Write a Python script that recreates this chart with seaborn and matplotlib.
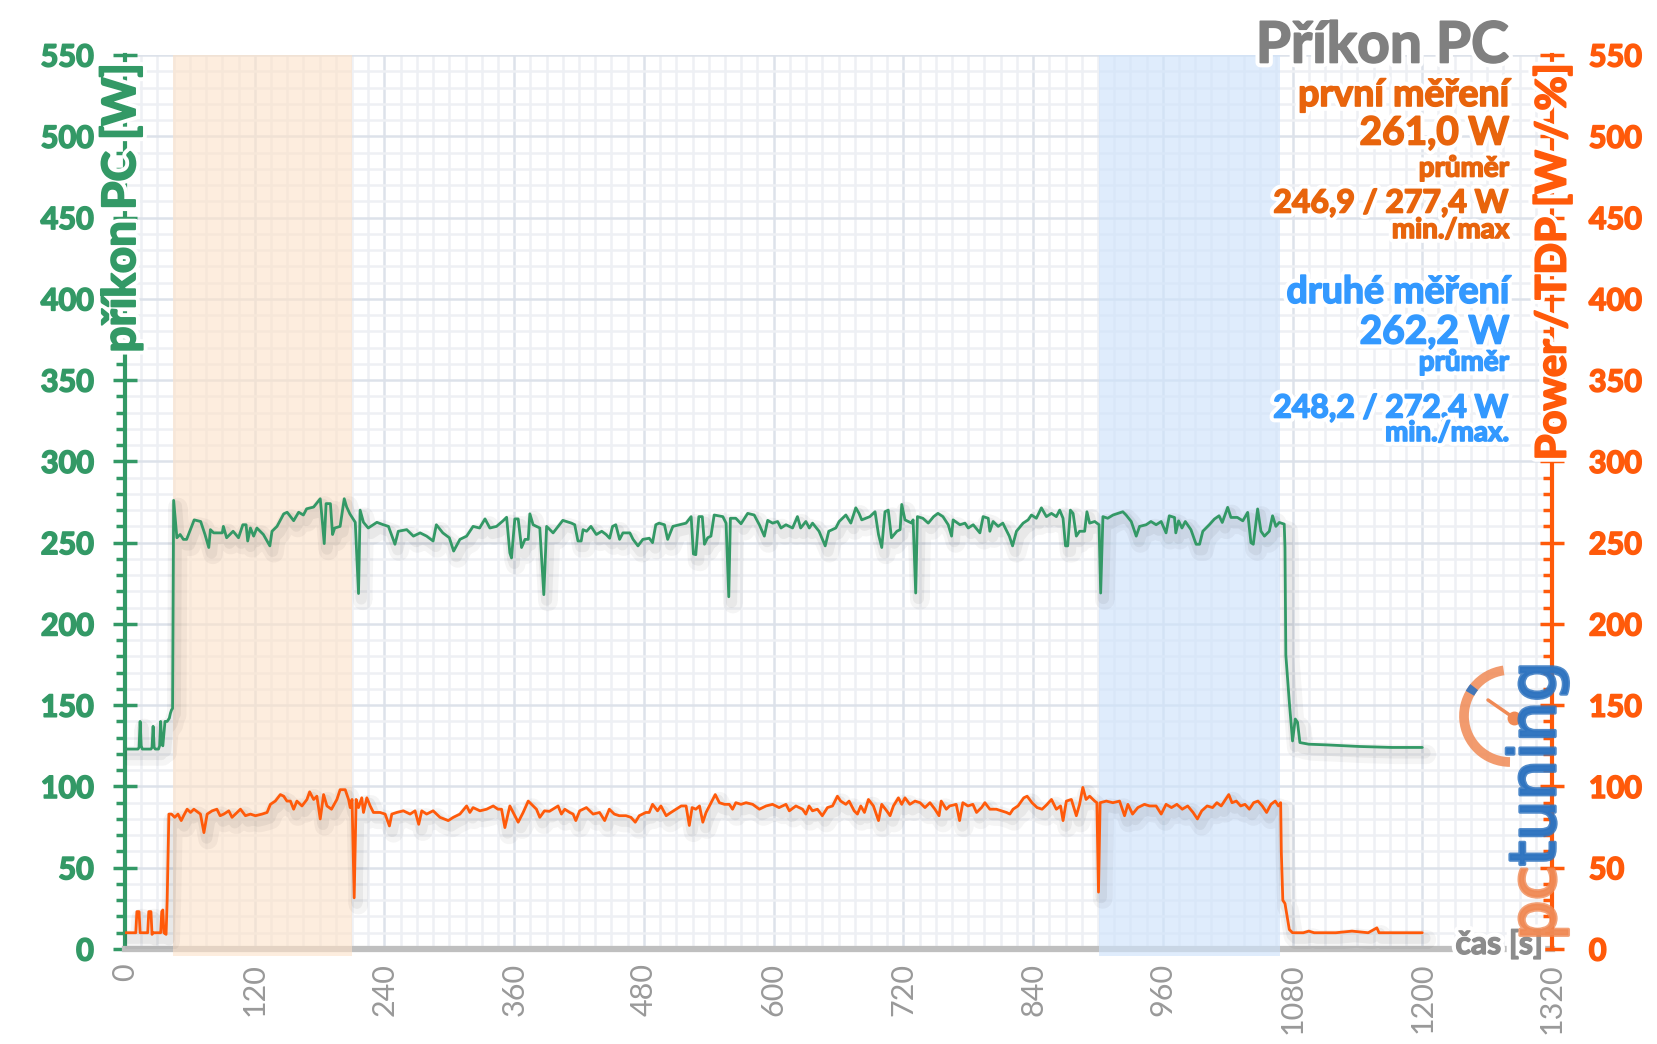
import numpy as np
import pandas as pd
import matplotlib
matplotlib.use('Agg')
import matplotlib.pyplot as plt
import matplotlib.patheffects as pe
from matplotlib.ticker import MultipleLocator
from matplotlib.patches import Arc
import seaborn as sns

# values (time in s, power in W)
green_t = [0, 12, 13, 14, 15, 16, 24, 25, 26, 27, 28, 31, 32, 33, 34, 35, 37, 39, 41, 42, 43, 44, 45,
           48, 51, 54, 57, 64, 70, 74, 77.5, 79, 82, 90, 91, 94, 100, 105, 109, 112, 113.5, 116, 119,
           122, 128, 134, 136, 140.6, 146.8, 150, 156, 160.6, 165, 168, 174.5, 180.6, 182, 184.3, 186,
           190, 192, 194, 199, 202.8, 205, 208, 213, 216, 217.5, 220.6, 225, 233, 239, 243.7, 249.7,
           252.8, 260.6, 266.8, 273, 279, 285, 288, 294, 300, 304, 309.8, 316, 322, 328, 333, 337.5,
           343.7, 349.8, 353, 356, 357.5, 360.6, 363.7, 366.8, 370, 373, 374.5, 377.5, 383.7, 387.4,
           390, 396, 405, 413, 416, 419, 422, 423.7, 427, 431, 436, 441, 445, 448.3, 451, 454, 457.5,
           460.6, 467, 470, 474.5, 479, 485, 488, 491, 494, 499, 502, 506.8, 513, 519, 523.7, 525.8,
           528, 530.8, 534, 536, 539, 542, 545, 553, 556, 558.5, 560, 565, 569.8, 576, 582, 586.8,
           591.4, 594.5, 599, 603.7, 606.8, 611.4, 617.5, 622, 625, 629.8, 633, 636, 642, 647.7, 651,
           657.5, 660.6, 666.8, 671.4, 676, 679, 681.5, 689, 693.8, 697, 700, 703, 706, 709, 714, 717,
           718.5, 721.5, 727.7, 729, 731.4, 733, 738, 743, 748, 752, 756.6, 761.5, 764.6, 766, 772.3,
           777, 780, 784.6, 790.8, 793.8, 798.5, 800, 803, 807.7, 812, 815, 818, 821, 824.6, 830.8,
           835.4, 838.5, 843, 847.7, 852.3, 857, 861.5, 864.6, 867.7, 870, 872, 874.5, 877, 880, 883,
           887.7, 889.8, 892.3, 897, 901, 902.5, 904.6, 909, 914, 918.5, 923, 926, 930.8, 935.4, 938.5,
           944.6, 949, 953.8, 958.5, 963, 966, 970.8, 972, 974.6, 977.7, 980.8, 986, 990.8, 994, 997,
           1003, 1007.7, 1012, 1015, 1020, 1023, 1029, 1034, 1038.5, 1041.5, 1043.7, 1047.7, 1050.8,
           1054, 1058.5, 1061.5, 1064.6, 1067.7, 1072.3, 1073, 1073.8, 1077, 1080, 1082.5, 1084.6,
           1086.8, 1095, 1110.8, 1141.5, 1172, 1200]
green_w = [123, 123, 124, 140, 125, 123, 123, 124, 137, 124, 123, 123, 125, 140, 126, 125, 140, 140, 142, 145, 147, 148, 276,
           253, 255, 252, 252, 264, 263, 255, 247, 258, 256, 256, 260, 253, 257, 253, 261, 261, 251, 259, 254,
           259, 255, 248, 257, 260, 267.7, 268.7, 263.5, 268.7, 267, 270.8, 271.9, 277, 267, 249.4, 274,
           274, 255, 259, 260, 277, 272, 267.7, 262.5, 218.7, 270, 262.5, 259, 262.5, 261, 260, 249,
           257, 258, 254, 256, 254, 251, 261, 256, 253, 244.8, 252, 254, 260, 259, 264.6, 259,
           260, 263.5, 265.6, 243.7, 240.6, 264.6, 264.6, 247, 252, 252, 267.7, 261, 259, 218,
           260, 256, 263.7, 262, 261, 251, 251, 258, 257, 260, 255, 257, 255, 252.7, 260, 261, 252,
           256, 256, 252, 248, 252, 252.7, 250, 261, 262, 261, 252, 260, 261, 262, 266, 243,
           242.6, 266, 266, 249, 253, 254, 267, 266, 262, 216.7, 265, 265, 261.6, 268, 267, 261,
           254, 263.7, 262, 263, 259, 261, 259, 266, 259, 263, 259, 262, 257, 248, 257,
           259, 263, 267, 262, 271.4, 268, 264, 266, 269, 255, 247, 269, 270, 253, 257, 258,
           273.5, 264, 262, 264, 219, 266, 265, 262, 266, 268, 266, 261, 254, 264, 261,
           262, 259, 261, 256, 266, 265, 257, 263, 260, 262, 258, 254, 248, 257, 262,
           264, 267, 265, 271.4, 266, 268, 266, 270, 265, 248, 248, 270, 268, 254, 257,
           257, 269, 262, 263, 261, 219, 266, 265, 267, 268, 269, 267, 263, 254, 260,
           261, 263, 261, 263, 256, 266.5, 265.5, 256, 263.4, 259, 263, 258, 249, 249, 257,
           261, 264.5, 266.5, 262.4, 271.7, 265.5, 265.5, 263.4, 268.6, 250, 249, 270.7, 257,
           254, 257, 266.5, 260, 262.4, 261.4, 247, 180.8, 152, 128, 141.5, 139.5,
           127, 126, 125.6, 124.6, 124, 124]

orange_t = [0, 10, 11, 13, 14, 21, 22, 24, 25, 26, 33, 34, 35, 36, 38, 39, 40.6,
            43, 46, 49, 52, 55, 57.5, 60.6, 63.7, 69.8, 73, 76, 80.6, 85, 88, 91.4, 96, 99, 103.7,
            106.8, 111.4, 116, 120.6, 126.8, 131.4, 134.5, 139, 143.7, 146.8, 149.8, 153, 156, 159,
            163.7, 168.3, 170.8, 174.5, 177.5, 180.6, 183.7, 186.8, 191, 196, 199, 203.7, 206.8, 208.3,
            210, 212, 213.8, 216, 219, 220.6, 223.7, 226.8, 229.8, 236, 240.6, 244.6, 246.8, 251.4,
            257.5, 263.7, 268.3, 271.7, 274.5, 279, 285, 291.4, 299, 303.7, 309.8, 316, 319, 322,
            328.3, 334.5, 340.6, 345, 348.3, 351.4, 356, 360.6, 363.7, 368.3, 373, 377.5, 380.6, 383.7,
            388, 392.6, 395.7, 400.6, 403.7, 406.8, 411.4, 414.5, 417, 420.6, 426.8, 433, 439, 443.7,
            448, 452.6, 457.2, 463.4, 468, 472, 475.7, 481.8, 484.9, 488, 492.6, 495.7, 500.6, 505,
            509.8, 514.5, 519, 522, 524.6, 528, 531.4, 534.5, 537.5, 540.6, 543.7, 546, 549.8, 554.5,
            559, 562, 565, 569.8, 574.5, 580.6, 586.8, 593, 599, 605, 611.4, 614.5, 620.6, 626.7,
            629.8, 632.8, 635.9, 640.5, 645, 649.8, 654.5, 659, 662, 666.8, 669.8, 674.5, 677.5, 680.6,
            684, 687.7, 692.3, 697, 700, 704.6, 707.7, 710.8, 715.4, 718.5, 721.5, 726, 730.8, 735.4,
            740, 744.6, 749.2, 753, 755, 759.7, 762.8, 768.9, 772, 775, 779.7, 784.3, 787.7, 792.3,
            795.4, 800, 806, 810.8, 815.4, 818.5, 821.5, 826, 831.4, 834.5, 839, 843.7, 848.3, 853,
            857, 861.5, 865.4, 867.7, 870.8, 875.4, 880, 883, 886, 889, 892.3, 897, 899, 900.5, 902,
            907.7, 913.8, 920, 924.6, 927.7, 932, 936.9, 943, 947.7, 953.8, 958.5, 963,
            968, 973, 978, 983, 988, 992, 996, 1001, 1006, 1010, 1014, 1018, 1021, 1024, 1028, 1032,
            1036, 1040, 1044, 1048, 1052, 1056, 1060, 1064, 1067, 1069, 1069.6, 1071, 1073, 1075, 1077,
            1080, 1090, 1095, 1100, 1120, 1135, 1150, 1158, 1160, 1180, 1200]
orange_w = [10, 10, 23, 23, 10, 10, 23, 23, 9, 10, 10, 23, 24, 10, 9, 30, 83,
            83, 81, 83, 79, 83, 86, 84, 86, 83, 71.6, 83, 85, 86, 82, 83, 85, 81, 84,
            86, 82, 83, 82, 83, 84, 89, 91, 95, 94, 91, 91, 86, 91,
            88, 92, 96.7, 92, 94, 80, 95, 88, 86, 92, 98, 98, 92, 87,
            92, 31.5, 92, 87, 93, 84, 93, 88, 84, 84, 83, 75.7, 83, 84,
            85, 83, 85, 76.7, 85, 83, 85, 81, 79, 81, 83, 88, 84, 87,
            85, 86, 88, 86, 86, 74.7, 88, 82, 78, 84, 91, 88, 86, 81,
            85, 84.7, 86, 88, 83, 86, 84, 83, 79, 85, 87, 83, 84, 79,
            86, 83, 82, 82, 81, 78, 82, 84, 84, 89, 85, 88, 82, 84,
            86, 88, 88, 76, 87, 86, 88, 78, 84, 88, 92, 95, 90, 89,
            89, 86, 90, 89, 90, 89, 86, 88, 89, 87, 89, 85, 88, 86,
            83, 88, 85, 86, 82, 87, 88, 94, 91, 89, 91, 85, 83, 88,
            84, 92, 88, 79, 89, 85, 82, 88, 93, 89, 93, 89, 91, 90,
            87, 90, 86, 82, 91, 86, 88, 89, 79, 90, 88, 89, 84, 87,
            90, 86, 86, 85, 84, 83, 86, 88, 93, 94, 90, 87, 86, 89,
            92, 86, 88, 79, 91, 92, 82, 89, 99.4, 92, 94, 91, 90, 35, 90,
            91, 90, 91, 82, 89, 83, 87, 89, 88, 88, 83, 89,
            87, 89, 86, 88, 84, 80, 85, 88, 87, 90, 88, 92, 95, 90, 91, 88,
            89, 86, 90, 91, 88, 84, 89, 91, 88, 90, 60, 30, 28, 20, 12,
            10, 10, 11, 10, 10, 11, 10, 13, 10, 10, 10]

x_ticks = list(range(0, 1321, 120))
y_ticks = list(range(0, 551, 50))
first_span = (44, 210)
second_span = (901, 1068)

GREEN = '#339966'
ORANGE = '#ff5a0a'
ORANGE_TXT = '#e8640c'
BLUE_TXT = '#3399ff'
GRAY = '#808080'
LOGO_OR = '#f08a55'
LOGO_BL = '#2f74c0'

sns.set_style('white')
plt.rcParams['font.family'] = ['Lato', 'DejaVu Sans']

W, H = 1657, 1044
fig = plt.figure(figsize=(W / 100, H / 100), dpi=100)
L, R, T, B = 125, 1552, 55, 949
ax = fig.add_axes([L / W, 1 - B / H, (R - L) / W, (B - T) / H])


def heavy(col, glow_w=7, fat=1.0):
    # white halo plus a thin same-colour stroke to thicken the glyphs
    out = []
    if glow_w:
        out.append(pe.withStroke(linewidth=glow_w, foreground='white'))
    out.append(pe.Stroke(linewidth=fat, foreground=col))
    out.append(pe.Normal())
    return out


shadow = [pe.SimpleLineShadow(offset=(3, -5), shadow_color='k', alpha=0.04, linewidth=14),
          pe.SimpleLineShadow(offset=(2, -4), shadow_color='k', alpha=0.05, linewidth=8),
          pe.Normal()]

# shaded measurement windows
ax.axvspan(*first_span, ymin=-0.008, color='#fde2c8', alpha=0.6, lw=0, zorder=2.6, clip_on=False)
ax.axvspan(*second_span, ymin=-0.008, color='#cfe3fb', alpha=0.65, lw=0, zorder=2.6, clip_on=False)

df_g = pd.DataFrame({'t': green_t, 'w': green_w})
df_o = pd.DataFrame({'t': orange_t, 'w': orange_w})
sns.lineplot(data=df_g, x='t', y='w', ax=ax, color=GREEN, lw=2, estimator=None, sort=False, zorder=4)
ax.lines[-1].set_path_effects(shadow)
sns.lineplot(data=df_o, x='t', y='w', ax=ax, color=ORANGE, lw=2, estimator=None, sort=False, zorder=4)
ax.lines[-1].set_path_effects(shadow)

ax.set_xlim(0, 1320)
ax.set_ylim(0, 550)
ax.set_xticks(x_ticks)
ax.set_yticks(y_ticks)
ax.xaxis.set_minor_locator(MultipleLocator(15))
ax.yaxis.set_minor_locator(MultipleLocator(10))
ax.set_axisbelow(True)
ax.grid(which='major', color='#dde2ea', lw=1.8)
ax.grid(which='minor', color='#eef0f4', lw=1.8)
ax.set_xlabel('')
ax.set_ylabel('')

ax.tick_params(axis='x', which='major', direction='out', length=7, width=4, color='#bfbfbf',
               labelsize=22, labelcolor='#999999', labelrotation=90, pad=3)
ax.tick_params(axis='x', which='minor', length=0)
ax.tick_params(axis='y', which='major', direction='inout', length=17, width=2.5, color=GREEN,
               labelsize=22, labelcolor=GREEN, pad=14)
ax.tick_params(axis='y', which='minor', direction='out', length=6.5, width=2.5, color=GREEN)
for lbl in ax.get_yticklabels():
    lbl.set_fontweight('bold')
    lbl.set_path_effects(heavy(GREEN, 0, 1.2))

for s in ['top', 'right']:
    ax.spines[s].set_visible(False)
ax.spines['left'].set_color(GREEN)
ax.spines['left'].set_linewidth(3)
ax.spines['bottom'].set_color('#bfbfbf')
ax.spines['bottom'].set_linewidth(4.5)

ax2 = ax.twinx()
ax2.set_ylim(0, 550)
ax2.set_yticks(y_ticks)
ax2.yaxis.set_minor_locator(MultipleLocator(10))
ax2.tick_params(axis='y', which='major', direction='inout', length=17, width=2.5, color=ORANGE,
                labelsize=22, labelcolor=ORANGE, pad=18)
ax2.tick_params(axis='y', which='minor', direction='in', length=6.5, width=2.5, color=ORANGE)
for lbl in ax2.get_yticklabels():
    lbl.set_fontweight('bold')
    lbl.set_path_effects(heavy(ORANGE, 0, 1.2))
for s in ['top', 'left', 'bottom']:
    ax2.spines[s].set_visible(False)
ax2.spines['right'].set_color(ORANGE)
ax2.spines['right'].set_linewidth(3)


def ftext(x, y, s, color, fat=1.0, **kw):
    return fig.text(x / W, 1 - y / H, s, color=color, path_effects=heavy(color, 7, fat), **kw)


# axis titles
ftext(121, 208, 'příkon PC [W]', GREEN, 1.4, rotation=90, ha='center', va='center',
      fontsize=33, fontweight='bold')
ftext(1553, 262, 'Power / TDP [W / %]', ORANGE, 1.4, rotation=90, ha='center', va='center',
      fontsize=30, fontweight='bold')
ftext(1543, 944, 'čas [s]', '#8c8c8c', 1.0, ha='right', va='center', fontsize=23, fontweight='bold')

# logo
logo_fx = [pe.Stroke(linewidth=2.5, foreground=LOGO_OR), pe.Normal()]
fig.text(1537 / W, 1 - 941 / H, 'pc', rotation=90, ha='center', va='bottom', color=LOGO_OR,
         alpha=0.8, fontsize=46, family='DejaVu Sans', path_effects=logo_fx)
logo_fx = [pe.Stroke(linewidth=2.5, foreground=LOGO_BL), pe.Normal()]
fig.text(1537 / W, 1 - 866 / H, 'tuning', rotation=90, ha='center', va='bottom', color=LOGO_BL,
         alpha=0.85, fontsize=46, family='DejaVu Sans', path_effects=logo_fx)
r = 46
fig.add_artist(Arc((1510 / W, 1 - 716 / H), 2 * r / W, 2 * r / H, theta1=95, theta2=270,
                   transform=fig.transFigure, color=LOGO_OR, lw=7, alpha=0.85))
fig.add_artist(Arc((1510 / W, 1 - 716 / H), 2 * r / W, 2 * r / H, theta1=128, theta2=138,
                   transform=fig.transFigure, color=LOGO_BL, lw=7, alpha=0.9))
fig.add_artist(plt.Line2D([1488 / W, 1514 / W], [1 - 700 / H, 1 - 718 / H],
                          transform=fig.transFigure, color=LOGO_OR, lw=2.5))
fig.add_artist(plt.Line2D([1514 / W], [1 - 718 / H], transform=fig.transFigure,
                          color=LOGO_OR, marker='o', ms=9, lw=0))

# summary block
block = [
    ('Příkon PC', 46, 41, GRAY),
    ('první měření', 95, 27, ORANGE_TXT),
    ('261,0 W', 133, 28, ORANGE_TXT),
    ('průměr', 168, 20, ORANGE_TXT),
    ('246,9 / 277,4 W', 203, 23, ORANGE_TXT),
    ('min./max', 230, 20, ORANGE_TXT),
    ('druhé měření', 292, 27, BLUE_TXT),
    ('262,2 W', 332, 28, BLUE_TXT),
    ('průměr', 362, 20, BLUE_TXT),
    ('248,2 / 272,4 W', 408, 23, BLUE_TXT),
    ('min./max.', 433, 20, BLUE_TXT),
]
for txt, yy, fs, col in block:
    ftext(1509, yy, txt, col, 1.2, ha='right', va='center', fontsize=fs, fontweight='bold')

fig.savefig('out.png', dpi=100)
